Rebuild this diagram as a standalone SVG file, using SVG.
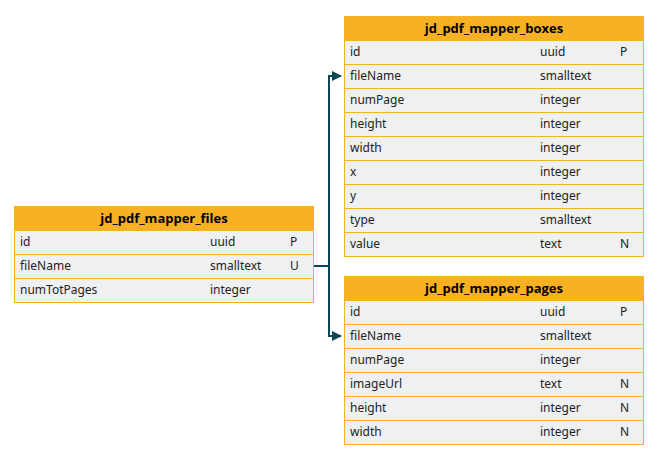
<svg xmlns="http://www.w3.org/2000/svg" width="660" height="460" viewBox="0 0 660 460">
<defs>
<style>
.h{fill:#f7b122}
.ht{font:bold 13px "Open Sans","Noto Sans",sans-serif;fill:#000;text-anchor:middle}
.r{fill:#eff0f2;stroke:#f7b122;stroke-width:1}
.t{font:12px "Noto Sans","Open Sans",sans-serif;fill:#222}
.c{fill:none;stroke:#0e4655;stroke-width:2}
</style>
<marker id="a" viewBox="0 0 10 10" refX="9" refY="5" markerWidth="5" markerHeight="5" orient="auto"><path d="M0,0L10,5L0,10z" fill="#0e4655"/></marker>
</defs>
<rect width="660" height="460" fill="#fff"/>
<g id="files">
<rect class="h" x="14" y="206" width="300" height="24"/>
<text class="ht" x="164" y="223">jd_pdf_mapper_files</text>
<rect class="r" x="14.5" y="230.5" width="299" height="24"/><text class="t" x="20" y="246">id</text><text class="t" x="210" y="246">uuid</text><text class="t" x="290" y="246">P</text>
<rect class="r" x="14.5" y="254.5" width="299" height="24"/><text class="t" x="20" y="270">fileName</text><text class="t" x="210" y="270">smalltext</text><text class="t" x="290" y="270">U</text>
<rect class="r" x="14.5" y="278.5" width="299" height="24"/><text class="t" x="20" y="294">numTotPages</text><text class="t" x="210" y="294">integer</text>
</g>
<g id="boxes">
<rect class="h" x="344" y="16" width="300" height="24"/>
<text class="ht" x="494" y="33">jd_pdf_mapper_boxes</text>
<rect class="r" x="344.5" y="40.5" width="299" height="24"/><text class="t" x="350" y="56">id</text><text class="t" x="540" y="56">uuid</text><text class="t" x="620" y="56">P</text>
<rect class="r" x="344.5" y="64.5" width="299" height="24"/><text class="t" x="350" y="80">fileName</text><text class="t" x="540" y="80">smalltext</text>
<rect class="r" x="344.5" y="88.5" width="299" height="24"/><text class="t" x="350" y="104">numPage</text><text class="t" x="540" y="104">integer</text>
<rect class="r" x="344.5" y="112.5" width="299" height="24"/><text class="t" x="350" y="128">height</text><text class="t" x="540" y="128">integer</text>
<rect class="r" x="344.5" y="136.5" width="299" height="24"/><text class="t" x="350" y="152">width</text><text class="t" x="540" y="152">integer</text>
<rect class="r" x="344.5" y="160.5" width="299" height="24"/><text class="t" x="350" y="176">x</text><text class="t" x="540" y="176">integer</text>
<rect class="r" x="344.5" y="184.5" width="299" height="24"/><text class="t" x="350" y="200">y</text><text class="t" x="540" y="200">integer</text>
<rect class="r" x="344.5" y="208.5" width="299" height="24"/><text class="t" x="350" y="224">type</text><text class="t" x="540" y="224">smalltext</text>
<rect class="r" x="344.5" y="232.5" width="299" height="24"/><text class="t" x="350" y="248">value</text><text class="t" x="540" y="248">text</text><text class="t" x="620" y="248">N</text>
</g>
<g id="pages">
<rect class="h" x="344" y="276" width="300" height="24"/>
<text class="ht" x="494" y="293">jd_pdf_mapper_pages</text>
<rect class="r" x="344.5" y="300.5" width="299" height="24"/><text class="t" x="350" y="316">id</text><text class="t" x="540" y="316">uuid</text><text class="t" x="620" y="316">P</text>
<rect class="r" x="344.5" y="324.5" width="299" height="24"/><text class="t" x="350" y="340">fileName</text><text class="t" x="540" y="340">smalltext</text>
<rect class="r" x="344.5" y="348.5" width="299" height="24"/><text class="t" x="350" y="364">numPage</text><text class="t" x="540" y="364">integer</text>
<rect class="r" x="344.5" y="372.5" width="299" height="24"/><text class="t" x="350" y="388">imageUrl</text><text class="t" x="540" y="388">text</text><text class="t" x="620" y="388">N</text>
<rect class="r" x="344.5" y="396.5" width="299" height="24"/><text class="t" x="350" y="412">height</text><text class="t" x="540" y="412">integer</text><text class="t" x="620" y="412">N</text>
<rect class="r" x="344.5" y="420.5" width="299" height="24"/><text class="t" x="350" y="436">width</text><text class="t" x="540" y="436">integer</text><text class="t" x="620" y="436">N</text>
</g>
<g id="connectors">
<path class="c" d="M314,266H329V76H341" marker-end="url(#a)"/>
<path class="c" d="M314,266H329V336H341" marker-end="url(#a)"/>
</g>
</svg>
